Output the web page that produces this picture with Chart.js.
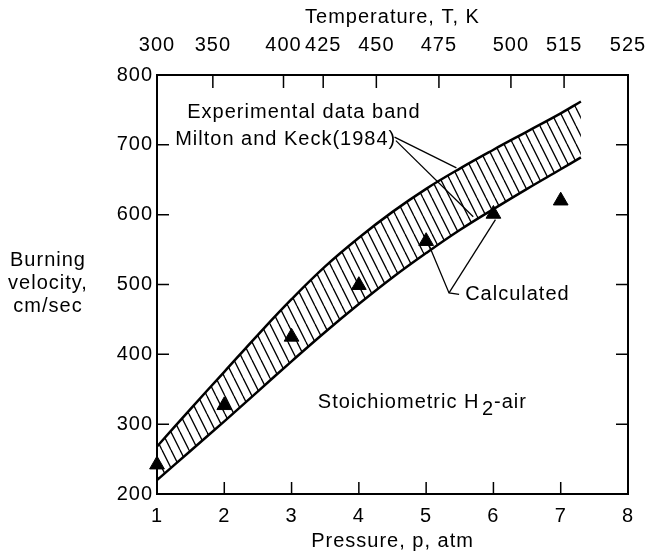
<!DOCTYPE html>
<html>
<head>
<meta charset="utf-8">
<script src="https://cdn.jsdelivr.net/npm/chart.js@4.4.0/dist/chart.umd.min.js"></script>
<style>
  html, body { margin: 0; padding: 0; background: #fff; }
  #wrap { width: 646px; height: 553px; position: relative; }
</style>
</head>
<body>
<div id="wrap"><canvas id="chart"></canvas></div>
<script>
// Milton and Keck (1984) experimental band, burning velocity (cm/sec) vs pressure (atm)
const bandPressure = [1, 1.5, 2, 2.5, 3, 3.5, 4, 4.5, 5, 5.5, 6, 6.5, 7, 7.3];
const bandUpper = [268, 322, 375, 428, 479, 526, 567, 604, 637, 666, 693, 719, 745, 762];
const bandLower = [220, 262, 304, 347, 390, 432, 472, 510, 545, 578, 608, 637, 665, 682];

// calculated points (triangles)
const calcPressure = [1, 2, 3, 4, 5, 6, 7];
const calcVelocity = [242, 327, 425, 499, 562, 601, 620];

// top axis: temperature labels placed at the matching pressure
const tempPressure = [1, 1.83, 2.88, 3.47, 4.26, 5.19, 6.26, 7.05, 8];
const tempLabels = ['300', '350', '400', '425', '450', '475', '500', '515', '525'];

// text notes and leader lines, in data units (p, v)
const notes = [
  { text: 'Experimental data band', p: 1.45, v: 747 },
  { text: 'Milton and Keck(1984)', p: 1.27, v: 707 },
  { text: 'Calculated', p: 5.58, v: 485 },
];
const leaders = [
  [[4.53, 711], [5.45, 667]],
  [[4.55, 706], [5.70, 597]],
  [[5.04, 557], [5.34, 488], [5.49, 486]],
  [[6.03, 593], [5.34, 488]],
];
const yTitle = ['Burning', 'velocity,', 'cm/sec'];

const FONT = "'Liberation Sans', Arial, Helvetica, sans-serif";
Chart.defaults.font.family = FONT;
Chart.defaults.font.size = 20;
Chart.defaults.color = '#000';

const canvas = document.getElementById('chart');

// diagonal hatch for the band
function makeHatch(ctx) {
  const tile = document.createElement('canvas');
  tile.width = 9;
  tile.height = 18;
  const g = tile.getContext('2d');
  g.strokeStyle = '#000';
  g.lineWidth = 1.3;
  [-9, 0, 9].forEach(dx => {
    g.beginPath();
    g.moveTo(dx, 0);
    g.lineTo(dx + 9, 18);
    g.stroke();
  });
  return ctx.createPattern(tile, 'repeat');
}

const toXY = (xs, ys) => xs.map((x, i) => ({ x, y: ys[i] }));

// fixed box sizes, no extra room for overhanging labels
const fixSize = (w, h) => s => {
  if (w != null) s.width = w;
  if (h != null) s.height = h;
  s.paddingLeft = s.paddingRight = s.paddingTop = s.paddingBottom = 0;
};

// the scanned lettering is a little wider than Arial
const spacing = {
  id: 'spacing',
  beforeDraw(chart) { chart.ctx.letterSpacing = '1px'; },
};

// inward tick marks on all four sides
const innerTicks = {
  id: 'innerTicks',
  afterDraw(chart) {
    const { ctx, chartArea: a, scales } = chart;
    ctx.save();
    ctx.strokeStyle = '#000';
    ctx.lineWidth = 1.5;
    ctx.beginPath();
    scales.y.ticks.forEach(t => {
      const y = scales.y.getPixelForValue(t.value);
      ctx.moveTo(a.left, y); ctx.lineTo(a.left + 12, y);
      ctx.moveTo(a.right, y); ctx.lineTo(a.right - 12, y);
    });
    scales.x.ticks.forEach(t => {
      const x = scales.x.getPixelForValue(t.value);
      ctx.moveTo(x, a.bottom); ctx.lineTo(x, a.bottom - 12);
    });
    tempPressure.forEach(p => {
      const x = scales.x2.getPixelForValue(p);
      ctx.moveTo(x, a.top); ctx.lineTo(x, a.top + 13);
    });
    ctx.stroke();
    ctx.restore();
  },
};

// notes, leader lines and the left-hand axis caption
const annotations = {
  id: 'annotations',
  afterDraw(chart) {
    const { ctx, scales } = chart;
    const px = p => scales.x.getPixelForValue(p);
    const py = v => scales.y.getPixelForValue(v);
    ctx.save();
    ctx.fillStyle = '#000';
    ctx.strokeStyle = '#000';
    ctx.font = `20px ${FONT}`;
    ctx.letterSpacing = '1px';
    ctx.textBaseline = 'middle';
    ctx.textAlign = 'left';
    notes.forEach(n => ctx.fillText(n.text, px(n.p), py(n.v)));

    // Stoichiometric H2-air with a lowered 2
    let x = px(3.39);
    const y = py(331);
    const head = 'Stoichiometric H ';
    ctx.fillText(head, x, y);
    x += ctx.measureText(head).width - 4;
    ctx.fillText('2', x, y + 7);
    x += ctx.measureText('2').width;
    ctx.fillText('-air', x, y);

    ctx.lineWidth = 1.3;
    leaders.forEach(pts => {
      ctx.beginPath();
      pts.forEach(([p, v], i) => i ? ctx.lineTo(px(p), py(v)) : ctx.moveTo(px(p), py(v)));
      ctx.stroke();
    });

    ctx.textAlign = 'center';
    yTitle.forEach((s, i) => ctx.fillText(s, 48, 260 + i * 23));
    ctx.restore();
  },
};

const hatch = makeHatch(canvas.getContext('2d'));

new Chart(canvas, {
  type: 'line',
  data: {
    datasets: [
      {
        data: toXY(bandPressure, bandUpper),
        borderColor: '#000',
        borderWidth: 2.5,
        backgroundColor: hatch,
        fill: '+1',
        pointRadius: 0,
        tension: 0.4,
      },
      {
        data: toXY(bandPressure, bandLower),
        borderColor: '#000',
        borderWidth: 2.5,
        fill: false,
        pointRadius: 0,
        tension: 0.4,
      },
      {
        data: toXY(calcPressure, calcVelocity),
        showLine: false,
        pointStyle: 'triangle',
        pointRadius: 8.5,
        pointBackgroundColor: '#000',
        pointBorderColor: '#000',
        pointBorderWidth: 1,
        clip: false,
      },
    ],
  },
  options: {
    responsive: true,
    maintainAspectRatio: false,
    animation: false,
    layout: { padding: 0 },
    plugins: { legend: { display: false }, tooltip: { enabled: false } },
    scales: {
      x: {
        type: 'linear',
        position: 'bottom',
        min: 1,
        max: 8,
        grid: { display: false, drawTicks: false },
        border: { display: true, color: '#000', width: 2 },
        ticks: { stepSize: 1, padding: 10, maxRotation: 0 },
        title: { display: true, text: 'Pressure, p, atm', padding: 0 },
        afterFit: fixSize(null, 59),
      },
      x2: {
        type: 'linear',
        position: 'top',
        min: 1,
        max: 8,
        grid: { display: false, drawTicks: false },
        border: { display: true, color: '#000', width: 2 },
        afterBuildTicks: s => { s.ticks = tempPressure.map(value => ({ value })); },
        ticks: {
          padding: 18,
          autoSkip: false,
          maxRotation: 0,
          callback: (val, i) => tempLabels[i],
        },
        title: { display: true, text: 'Temperature, T, K', padding: { top: 5, bottom: 0 } },
        afterFit: fixSize(null, 75),
      },
      y: {
        position: 'left',
        min: 200,
        max: 800,
        grid: { display: false, drawTicks: false },
        border: { display: true, color: '#000', width: 2 },
        ticks: { stepSize: 100, padding: 4 },
        afterFit: fixSize(157, null),
      },
      y2: {
        position: 'right',
        min: 200,
        max: 800,
        grid: { display: false, drawTicks: false },
        border: { display: true, color: '#000', width: 2 },
        ticks: { display: false, stepSize: 100 },
        afterFit: fixSize(18, null),
      },
    },
  },
  plugins: [spacing, innerTicks, annotations],
});
</script>
</body>
</html>
